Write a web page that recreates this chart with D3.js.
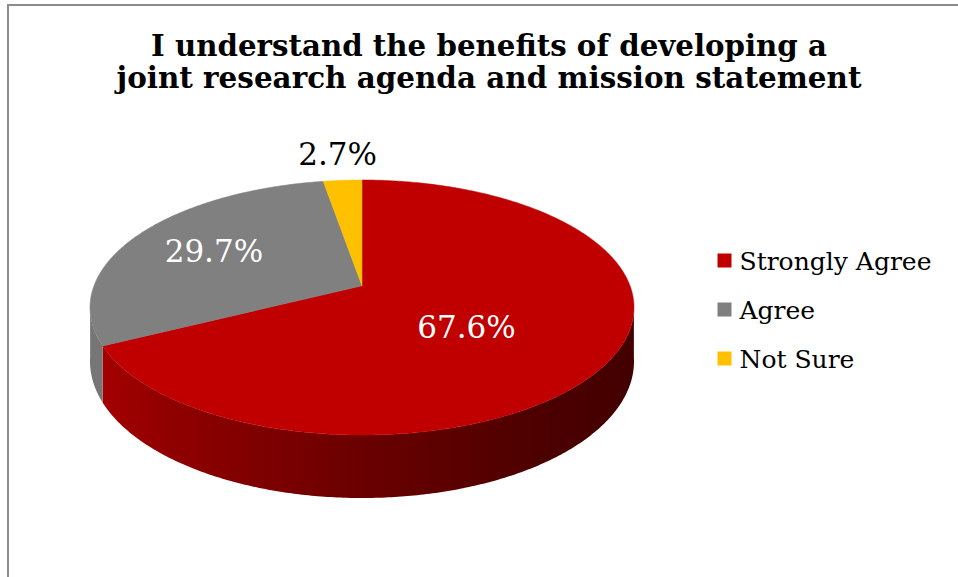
<!DOCTYPE html>
<html>
<head>
<meta charset="utf-8">
<script src="https://cdn.jsdelivr.net/npm/d3@7/dist/d3.min.js"></script>
<style>
  html, body { margin: 0; padding: 0; background: #fff; }
  svg { display: block; }
</style>
</head>
<body>
<svg id="chart" width="958" height="577"></svg>
<script>
// ---- data ----
const categories = ["Strongly Agree", "Agree", "Not Sure"];
const values = [67.6, 29.7, 2.7];
const labels = ["67.6%", "29.7%", "2.7%"];
const titleLines = ["I understand the benefits of developing a", "joint research agenda and mission statement"];

// ---- style / layout ----
const topColors = ["#C00000", "#808080", "#FFC000"];
const sideStops = [
  [["0", "#a80000"], ["0.12", "#930000"], ["0.5", "#6a0000"], ["0.85", "#4b0000"], ["1", "#430000"]],
  [["0", "#767676"], ["1", "#5a5a5a"]],
  [["0", "#c89600"], ["1", "#a07800"]]
];
const cx = 362, cy = 307.5, rx = 272, ry = 127.5;
const persp = 0.17;           // perspective tilt
const depth = 52.3;           // side height (scaled by perspective)
const A = Math.sqrt(1 - persp * persp);

const svg = d3.select("#chart");
const defs = svg.append("defs");

// frame
svg.append("rect").attr("x", 8).attr("y", 5).attr("width", 1200).attr("height", 1200)
  .attr("fill", "none").attr("stroke", "#8c8c8c").attr("stroke-width", 2);

// title
const title = svg.append("g").attr("font-family", "'DejaVu Serif', serif")
  .attr("font-weight", "bold").attr("font-size", 29).attr("fill", "#000");
const titleY = [56, 87.5], titleW = [676, 745];
titleLines.forEach((t, i) => {
  title.append("text").attr("x", 489).attr("y", titleY[i]).attr("text-anchor", "middle")
    .attr("textLength", titleW[i]).attr("lengthAdjust", "spacingAndGlyphs").text(t);
});

// projection of disk point (angle clockwise from 12 o'clock, radius fraction)
function proj(theta, r, bottom) {
  const u = r * Math.sin(theta), v = -r * Math.cos(theta);
  const w = 1 - persp * v;
  const X = A * u / w, Y = (v - persp) / w;
  return [cx + rx * X, cy + ry * Y + (bottom ? depth / w : 0)];
}

const pie = d3.pie().sort(null).value(d => d)(values);

// gradients for sides
sideStops.forEach((stops, i) => {
  const g = defs.append("linearGradient").attr("id", "side" + i)
    .attr("gradientUnits", "userSpaceOnUse")
    .attr("x1", cx - rx).attr("x2", cx + rx).attr("y1", 0).attr("y2", 0);
  stops.forEach(s => g.append("stop").attr("offset", s[0]).attr("stop-color", s[1]));
});

// visible front rim: between the rightmost and leftmost points of the outline
const frontStart = Math.acos(-persp) - 0.03;
const frontEnd = 2 * Math.PI - Math.acos(-persp) + 0.03;
const line = d3.line().curve(d3.curveLinearClosed);
const sides = [];
pie.forEach((p, i) => {
  const a0 = Math.max(p.startAngle, frontStart), a1 = Math.min(p.endAngle, frontEnd);
  if (a1 <= a0) return;
  const n = Math.max(2, Math.ceil((a1 - a0) / 0.01));
  const top = [], bot = [];
  for (let k = 0; k <= n; k++) {
    const a = a0 + (a1 - a0) * k / n;
    top.push(proj(a, 1, false));
    bot.push(proj(a, 1, true));
  }
  sides.push({ i, poly: top.concat(bot.reverse()) });
});
svg.append("g").selectAll("path").data(sides).join("path")
  .attr("d", d => line(d.poly))
  .attr("fill", d => `url(#side${d.i})`);

// top faces
svg.append("g").selectAll("path").data(pie).join("path")
  .attr("d", (p) => {
    const pts = [proj(0, 0, false)];
    const n = Math.max(4, Math.ceil((p.endAngle - p.startAngle) / 0.01));
    for (let k = 0; k <= n; k++) pts.push(proj(p.startAngle + (p.endAngle - p.startAngle) * k / n, 1, false));
    return line(pts);
  })
  .attr("fill", (p, i) => topColors[i])
  .attr("stroke", (p, i) => topColors[i]).attr("stroke-width", 0.5);

// data labels
const labelLayout = [
  { r: 0.44, dx: 0, dy: 22, fill: "#fff" },
  { r: 0.65, dx: 0, dy: 11, fill: "#fff" },
  { r: 1.0, dx: -5, dy: -15, fill: "#000" }
];
svg.append("g").attr("font-family", "'DejaVu Serif', serif").attr("font-size", 31)
  .selectAll("text").data(pie).join("text")
  .each(function (p, i) {
    const L = labelLayout[i];
    const pt = proj((p.startAngle + p.endAngle) / 2, L.r, false);
    d3.select(this).attr("x", pt[0] + L.dx).attr("y", pt[1] + L.dy)
      .attr("text-anchor", "middle").attr("fill", L.fill).text(labels[i]);
  });

// legend
const legend = svg.append("g").attr("transform", "translate(717.5,253.5)");
const li = legend.selectAll("g").data(categories).join("g")
  .attr("transform", (d, i) => `translate(0,${i * 49})`);
li.append("rect").attr("width", 14).attr("height", 14).attr("fill", (d, i) => topColors[i]);
li.append("text").attr("x", 22).attr("y", 16).attr("font-family", "'DejaVu Serif', serif")
  .attr("font-size", 25).attr("fill", "#000").text(d => d);
</script>
</body>
</html>
